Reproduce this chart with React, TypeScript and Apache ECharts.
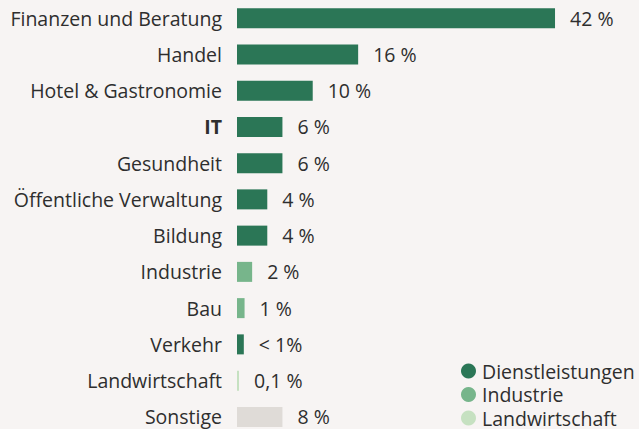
import React, { useEffect, useRef } from "react";
import * as echarts from "echarts";

const categories = [
  "Finanzen und Beratung",
  "Handel",
  "Hotel & Gastronomie",
  "IT",
  "Gesundheit",
  "Öffentliche Verwaltung",
  "Bildung",
  "Industrie",
  "Bau",
  "Verkehr",
  "Landwirtschaft",
  "Sonstige",
];
// sector of each category
const sectors = [
  "Dienstleistungen",
  "Dienstleistungen",
  "Dienstleistungen",
  "Dienstleistungen",
  "Dienstleistungen",
  "Dienstleistungen",
  "Dienstleistungen",
  "Industrie",
  "Industrie",
  "Dienstleistungen",
  "Landwirtschaft",
  "Sonstige",
];
const values = [42, 16, 10, 6, 6, 4, 4, 2, 1, 0.9, 0.1, 6];
const valueLabels = ["42 %", "16 %", "10 %", "6 %", "6 %", "4 %", "4 %", "2 %", "1 %", "< 1%", "0,1 %", "8 %"];
const legendNames = ["Dienstleistungen", "Industrie", "Landwirtschaft"];
const seriesNames = ["Dienstleistungen", "Industrie", "Landwirtschaft", "Sonstige"];
const seriesColors = ["#2b7656", "#77b58b", "#c6e1c1", "#dfdbd7"];

const FONT = "'Open Sans', sans-serif";
const TEXT = "#2e2e2e";
const FS = 19.5;

export default function App() {
  const ref = useRef<HTMLDivElement>(null);
  useEffect(() => {
    if (!ref.current) return;
    const chart = echarts.init(ref.current, null, { renderer: "svg" });
    const series = seriesNames.map((name, si) => ({
      name,
      type: "bar",
      stack: "all",
      barWidth: 20,
      barMinHeight: name === "Landwirtschaft" ? 2 : 0,
      itemStyle: { color: seriesColors[si] },
      data: values.map((v, i) => (sectors[i] === name ? v : "-")),
      label: {
        show: true,
        position: "right",
        distance: 15,
        color: TEXT,
        fontFamily: FONT,
        fontSize: FS,
        formatter: (p: any) => valueLabels[p.dataIndex],
      },
    }));
    chart.setOption({
      animation: false,
      backgroundColor: "#f7f4f3",
      textStyle: { fontFamily: FONT },
      legend: {
        data: legendNames,
        orient: "vertical",
        left: 461,
        top: 361,
        icon: "circle",
        itemWidth: 15,
        itemHeight: 15,
        itemGap: 3.5,
        padding: 0,
        textStyle: { fontSize: FS, lineHeight: 20, color: TEXT, fontFamily: FONT, padding: [0, 0, 0, 1] },
        selectedMode: false,
      },
      grid: { left: 237, top: 0, width: 378.6, height: 435 },
      xAxis: { type: "value", min: 0, max: 50, show: false },
      yAxis: {
        type: "category",
        data: categories,
        inverse: true,
        axisLine: { show: false },
        axisTick: { show: false },
        splitLine: { show: false },
        axisLabel: {
          margin: 15,
          fontSize: FS,
          color: TEXT,
          fontFamily: FONT,
          formatter: (v: string) => (v === "IT" ? "{b|IT}" : v),
          rich: { b: { fontWeight: "bold", fontSize: FS, color: TEXT, fontFamily: FONT } },
        },
      },
      series,
    });
    return () => chart.dispose();
  }, []);
  return <div ref={ref} style={{ position: "fixed", left: 0, top: 0, width: 639, height: 440 }} />;
}
